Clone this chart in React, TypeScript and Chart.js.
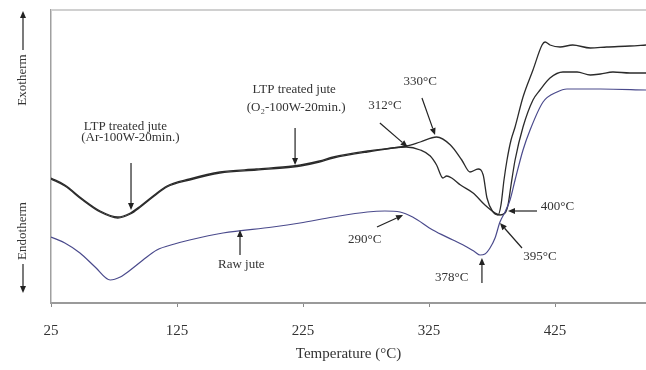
import React, { useEffect, useRef } from 'react';
import { Chart, registerables } from 'chart.js';

Chart.register(...registerables);

// X axis tick labels (temperature, °C)
const tickValues = [25, 125, 225, 325, 425];

// LTP treated jute (Ar-100W-20min.) – DSC trace (arbitrary heat-flow units)
const arTemps = [25, 36, 50, 64, 78, 88, 96, 107, 117, 135, 159, 188, 217, 223, 238, 249, 276, 307, 318, 326, 331, 336, 339, 343, 350, 360, 369.4, 377.4, 381.3, 385.3, 387.7, 390.1, 393.3, 399.6, 407.5, 413.1, 421, 431.3, 442.5, 453, 461, 471, 484.5, 497.2];
const arValues = [124, 117, 103, 91, 85, 89, 96, 107, 116, 123, 130, 133, 136, 137, 141, 145, 151, 156, 153, 147, 138, 125, 127, 125, 118, 110, 98, 90, 88, 90, 98, 118, 143, 176, 203, 213, 225, 231, 231, 228, 229, 231, 230, 230];

// LTP treated jute (O2-100W-20min.)
const o2Temps = [25, 36, 50, 64, 78, 88, 96, 107, 117, 135, 159, 188, 217, 223, 238, 249, 276, 307, 318, 331, 342, 351, 357.5, 364, 368, 371, 375.8, 379.8, 382.1, 384.5, 386.9, 390.1, 393.3, 399.6, 407.5, 414.7, 417.1, 421, 429, 439, 453, 466, 484.5, 497.2];
const o2Values = [125, 118, 104, 92, 86, 90, 97, 108, 117, 124, 131, 134, 137, 138, 142, 146, 152, 157, 161, 166, 158, 143, 131, 134, 128, 105, 91, 88, 98, 123, 143, 163, 176, 206, 233, 258, 261, 258, 256, 258, 255, 256, 257, 258];

// Raw jute
const rawTemps = [25, 36, 48, 60, 72, 80, 88, 98, 109, 123, 135, 161.5, 201, 222.6, 249, 276, 290, 302, 312, 328, 344, 355, 361.5, 365.5, 369.4, 373.4, 377.4, 381.3, 385.3, 389.3, 393.3, 399.6, 405.2, 415.5, 426.6, 434.5, 461, 497.2];
const rawValues = [66, 60, 50, 36, 23, 26, 33, 43, 53, 59, 63, 70, 76, 80, 86, 91, 92, 91, 86, 73, 63, 56, 51, 48, 49, 55, 65, 81, 91, 103, 123, 153, 173, 201, 211, 214, 214, 213];

// Annotation texts (data coordinates: temperature, value)
const labelTexts = ['LTP treated jute', '(Ar-100W-20min.)', 'LTP treated jute', '(O\u2082-100W-20min.)', '330\u00B0C', '312\u00B0C', '290\u00B0C', 'Raw jute', '400\u00B0C', '395\u00B0C', '378\u00B0C'];
const labelTemps = [84, 88, 218, 219.5, 318, 290, 274, 176, 427, 413, 343];
const labelValues = [176, 165, 213, 195, 221, 197, 63, 38, 96, 46, 25];

// Annotation arrows: from (t1,v1) to arrowhead at (t2,v2)
const arrowFromTemps = [88.5, 218.7, 319.4, 286, 283.7, 175, 410.7, 398.8, 367];
const arrowFromValues = [140, 175, 205, 180, 76, 48, 92, 55, 20];
const arrowToTemps = [88.5, 218.7, 329.8, 308, 304.4, 175, 387.7, 381.3, 367];
const arrowToValues = [93, 138, 168, 156, 88, 73, 92, 80, 45];

const SERIF = '"Liberation Serif", "Times New Roman", serif';

function drawArrow(ctx: CanvasRenderingContext2D, x1: number, y1: number, x2: number, y2: number) {
  const ang = Math.atan2(y2 - y1, x2 - x1);
  const hl = 7;
  const hw = 3;
  const bx = x2 - hl * Math.cos(ang);
  const by = y2 - hl * Math.sin(ang);
  ctx.beginPath();
  ctx.moveTo(x1, y1);
  ctx.lineTo(bx, by);
  ctx.stroke();
  ctx.beginPath();
  ctx.moveTo(x2, y2);
  ctx.lineTo(bx + hw * Math.sin(ang), by - hw * Math.cos(ang));
  ctx.lineTo(bx - hw * Math.sin(ang), by + hw * Math.cos(ang));
  ctx.closePath();
  ctx.fill();
}

const overlayPlugin = {
  id: 'overlay',
  afterDraw(chart: any) {
    const { ctx, chartArea: a, scales } = chart;
    const xs = scales.x;
    const ys = scales.y;
    ctx.save();
    // top frame line
    ctx.strokeStyle = '#d0d0d0';
    ctx.lineWidth = 2;
    ctx.beginPath();
    ctx.moveTo(a.left, a.top);
    ctx.lineTo(a.right, a.top);
    ctx.stroke();

    // annotation labels
    ctx.fillStyle = '#333';
    ctx.font = `13px ${SERIF}`;
    ctx.textAlign = 'center';
    ctx.textBaseline = 'middle';
    labelTexts.forEach((t, i) => {
      ctx.fillText(t, xs.getPixelForValue(labelTemps[i]), ys.getPixelForValue(labelValues[i]));
    });

    // arrows
    ctx.strokeStyle = '#222';
    ctx.fillStyle = '#222';
    ctx.lineWidth = 1.2;
    arrowFromTemps.forEach((_, i) => {
      drawArrow(
        ctx,
        xs.getPixelForValue(arrowFromTemps[i]),
        ys.getPixelForValue(arrowFromValues[i]),
        xs.getPixelForValue(arrowToTemps[i]),
        ys.getPixelForValue(arrowToValues[i])
      );
    });

    // side labels (Exotherm / Endotherm)
    const sx = 23;
    ctx.fillStyle = '#333';
    ctx.font = `13px ${SERIF}`;
    ctx.save();
    ctx.translate(sx, a.top + 70);
    ctx.rotate(-Math.PI / 2);
    ctx.fillText('Exotherm', 0, 0);
    ctx.restore();
    ctx.save();
    ctx.translate(sx, a.top + 221);
    ctx.rotate(-Math.PI / 2);
    ctx.fillText('Endotherm', 0, 0);
    ctx.restore();
    ctx.fillStyle = '#222';
    drawArrow(ctx, sx, a.top + 40, sx, a.top + 1);
    drawArrow(ctx, sx, a.top + 254, sx, a.top + 283);

    // x axis title
    ctx.fillStyle = '#333';
    ctx.font = `15px ${SERIF}`;
    ctx.fillText('Temperature (\u00B0C)', (a.left + a.right) / 2, a.bottom + 51);
    ctx.restore();
  },
};

export default function App() {
  const ref = useRef<HTMLCanvasElement | null>(null);
  useEffect(() => {
    if (!ref.current) return;
    const mk = (ts: number[], vs: number[]) => ts.map((t, i) => ({ x: t, y: vs[i] }));
    const chart = new Chart(ref.current, {
      type: 'line',
      data: {
        datasets: [
          { label: 'Raw jute', data: mk(rawTemps, rawValues), borderColor: '#4a4a8c', borderWidth: 1.2, pointRadius: 0, cubicInterpolationMode: 'monotone', fill: false },
          { label: 'LTP Ar', data: mk(arTemps, arValues), borderColor: '#2b2b2b', borderWidth: 1.3, pointRadius: 0, cubicInterpolationMode: 'monotone', fill: false },
          { label: 'LTP O2', data: mk(o2Temps, o2Values), borderColor: '#2b2b2b', borderWidth: 1.3, pointRadius: 0, cubicInterpolationMode: 'monotone', fill: false },
        ],
      },
      options: {
        responsive: false,
        animation: false,
        devicePixelRatio: 1,
        layout: { padding: { left: 0, top: 10, right: 0, bottom: 0 } },
        plugins: { legend: { display: false }, tooltip: { enabled: false }, title: { display: false } },
        scales: {
          x: {
            type: 'linear',
            min: 25,
            max: 497.2,
            afterBuildTicks: (scale: any) => {
              scale.ticks = tickValues.map((v) => ({ value: v }));
            },
            afterFit: (scale: any) => {
              scale.height = 67;
            },
            ticks: {
              color: '#333',
              font: { family: SERIF, size: 15 },
              padding: 15,
              maxRotation: 0,
              autoSkip: false,
              callback: (v: any) => String(v),
            },
            grid: { drawOnChartArea: false, drawTicks: true, tickLength: 4, color: '#888', lineWidth: 1 },
            border: { display: true, color: '#9a9a9a', width: 2 },
          },
          y: {
            type: 'linear',
            min: 0,
            max: 293,
            afterFit: (scale: any) => {
              scale.width = 51;
            },
            ticks: { display: false },
            grid: { display: false },
            border: { display: true, color: '#a0a0a0', width: 1.5 },
          },
        },
      },
      plugins: [overlayPlugin],
    });
    return () => chart.destroy();
  }, []);
  return (
    <div style={{ position: 'fixed', left: 0, top: 0, width: 646, height: 370, background: '#fff' }}>
      <canvas ref={ref} width={646} height={370} style={{ display: 'block' }} />
    </div>
  );
}
